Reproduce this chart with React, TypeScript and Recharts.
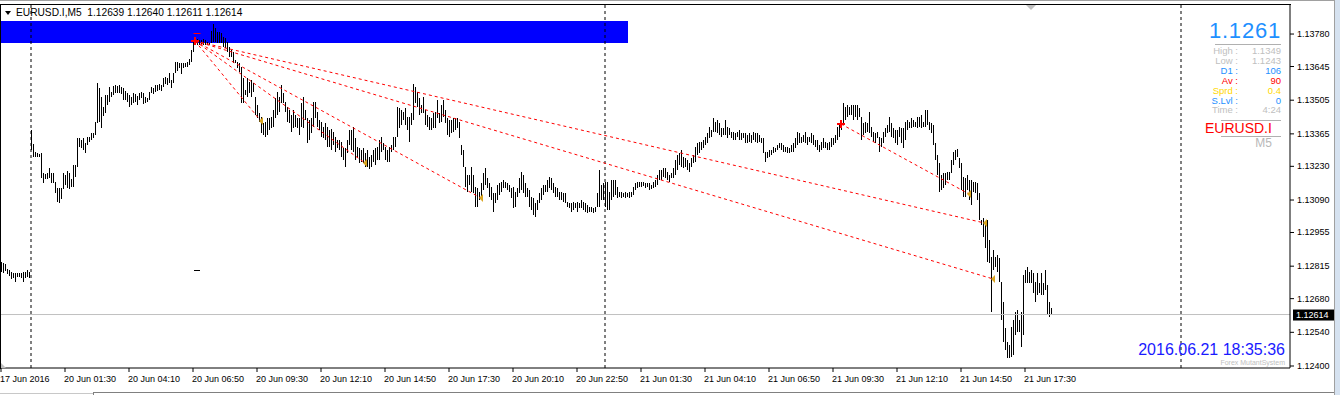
import React from 'react'
import {
  Bar,
  ComposedChart,
  ReferenceArea,
  ReferenceDot,
  ReferenceLine,
  XAxis,
  YAxis,
} from 'recharts'

// EURUSD.I M5 bars (high / low), one slot per bar, 2px apart
const high17 = [
  1.12832, 1.12828, 1.12824, 1.12803, 1.12799, 1.12791, 1.12787, 1.12787, 1.12787, 1.12787,
  1.12787, 1.12791, 1.12791, 1.12799, 1.12791,
]
const low17 = [
  1.12791, 1.12787, 1.12795, 1.12783, 1.12774, 1.12762, 1.12766, 1.12749, 1.1277, 1.1277,
  1.12766, 1.12749, 1.12766, 1.1277, 1.12766,
]

const high20 = [
  1.13381, 1.13323, 1.1329, 1.13286, 1.13281, 1.13286, 1.13202, 1.13198, 1.13202, 1.13223,
  1.13202, 1.13202, 1.13165, 1.1314, 1.1314, 1.1314, 1.13202, 1.13194, 1.13211, 1.13202,
  1.13177, 1.13236, 1.13236, 1.13348, 1.13348, 1.1334, 1.13348, 1.13327, 1.13352, 1.13352,
  1.13369, 1.13369, 1.13414, 1.13577, 1.13556, 1.13518, 1.13476, 1.13526, 1.13526, 1.1356,
  1.13539, 1.13564, 1.13568, 1.13564, 1.13568, 1.1356, 1.13556, 1.13543, 1.13535, 1.13526,
  1.13518, 1.13535, 1.13531, 1.13522, 1.13535, 1.13539, 1.13535, 1.13518, 1.13514, 1.13539,
  1.1356, 1.13556, 1.13568, 1.13568, 1.13572, 1.13568, 1.13597, 1.13601, 1.13597, 1.13618,
  1.13589, 1.13618, 1.13664, 1.13664, 1.1366, 1.1366, 1.1366, 1.1366, 1.13664, 1.13676,
  1.13714, 1.13747, 1.13764, 1.13759, 1.13755, 1.13755, 1.13759, 1.13755, 1.13747, 1.13743,
  1.13793, 1.13822, 1.13805, 1.13788, 1.13788, 1.13784, 1.13768, 1.13764, 1.13747, 1.13726,
  1.13714, 1.13705, 1.13672, 1.13664, 1.1366, 1.13643, 1.13597, 1.13547, 1.13597, 1.13581,
  1.13589, 1.13577, 1.13518, 1.13485, 1.13452, 1.13435, 1.1341, 1.13414, 1.13431, 1.13431,
  1.13435, 1.13464, 1.13514, 1.13539, 1.13518, 1.13568, 1.13535, 1.13497, 1.13476, 1.13464,
  1.13443, 1.13464, 1.13443, 1.13431, 1.13431, 1.13493, 1.13518, 1.13464, 1.13431, 1.13423,
  1.13431, 1.13497, 1.13497, 1.13456, 1.13423, 1.13414, 1.13393, 1.1341, 1.13393, 1.13381,
  1.13385, 1.13373, 1.13352, 1.1334, 1.1334, 1.13331, 1.13306, 1.13306, 1.1334, 1.13381,
  1.13381, 1.13393, 1.13348, 1.1331, 1.13306, 1.13298, 1.13306, 1.13286, 1.13298, 1.13269,
  1.13277, 1.13298, 1.13306, 1.1331, 1.1334, 1.13352, 1.13327, 1.1331, 1.13298, 1.1331,
  1.13319, 1.13352, 1.13352, 1.13476, 1.13472, 1.13464, 1.13456, 1.13472, 1.13435, 1.13435,
  1.13452, 1.13572, 1.1356, 1.13539, 1.13514, 1.13485, 1.13518, 1.13464, 1.13443, 1.13435,
  1.13431, 1.13452, 1.13456, 1.13506, 1.13452, 1.13485, 1.13506, 1.13464, 1.13431, 1.13423,
  1.13423, 1.13431, 1.13431, 1.13431, 1.13414, 1.13319, 1.13298, 1.13227, 1.13194, 1.13194,
  1.13227, 1.13194, 1.13144, 1.1314, 1.13123, 1.13161, 1.13202, 1.13223, 1.13182, 1.13161,
  1.13144, 1.13119, 1.13119, 1.13152, 1.13161, 1.13165, 1.13173, 1.13165, 1.13161, 1.13152,
  1.1314, 1.13144, 1.13123, 1.1314, 1.13182, 1.13206, 1.13194, 1.13161, 1.1314, 1.13132,
  1.13103, 1.13098, 1.13078, 1.1309, 1.13119, 1.1314, 1.13152, 1.13152, 1.13173, 1.13186,
  1.13182, 1.13161, 1.13144, 1.1314, 1.13123, 1.13123, 1.13119, 1.13119, 1.13082, 1.13078,
  1.13078, 1.13082, 1.13078, 1.13082, 1.13078, 1.1309, 1.13082, 1.13078, 1.13069, 1.13061,
  1.13061, 1.13057, 1.13061, 1.13119, 1.13215, 1.13152, 1.13161,
]
const low20 = [
  1.13298, 1.13269, 1.13269, 1.13269, 1.13269, 1.13182, 1.13161, 1.13177, 1.13177, 1.13182,
  1.13161, 1.13161, 1.13119, 1.13082, 1.13078, 1.13094, 1.13136, 1.13152, 1.1314, 1.13136,
  1.13144, 1.13144, 1.13186, 1.13227, 1.1331, 1.13306, 1.13298, 1.13286, 1.13319, 1.13331,
  1.1334, 1.13348, 1.1336, 1.1341, 1.13414, 1.13389, 1.13439, 1.13452, 1.13485, 1.13497,
  1.13518, 1.13526, 1.13535, 1.13535, 1.13535, 1.13531, 1.13506, 1.13506, 1.13497, 1.13476,
  1.13485, 1.13493, 1.13497, 1.13485, 1.13506, 1.13514, 1.13489, 1.13493, 1.13497, 1.13506,
  1.13535, 1.13531, 1.13539, 1.13543, 1.13547, 1.13543, 1.1356, 1.13572, 1.13568, 1.13577,
  1.13556, 1.13577, 1.13618, 1.13626, 1.13639, 1.13614, 1.13639, 1.13643, 1.13643, 1.13651,
  1.13664, 1.13705, 1.13734, 1.13734, 1.13734, 1.13739, 1.13734, 1.13734, 1.13734, 1.13734,
  1.13743, 1.13747, 1.13747, 1.13743, 1.13743, 1.13743, 1.13726, 1.13722, 1.13705, 1.13685,
  1.13685, 1.1366, 1.1366, 1.13639, 1.13622, 1.13493, 1.13493, 1.13526, 1.13518, 1.13535,
  1.13518, 1.13539, 1.13443, 1.13431, 1.13414, 1.13369, 1.1336, 1.13352, 1.1336, 1.13381,
  1.13389, 1.13393, 1.13431, 1.13443, 1.13456, 1.13493, 1.13493, 1.13456, 1.13414, 1.1341,
  1.13373, 1.13389, 1.13393, 1.13389, 1.1336, 1.13393, 1.13389, 1.13423, 1.13327, 1.1334,
  1.13369, 1.13393, 1.13431, 1.13393, 1.13381, 1.13352, 1.13348, 1.1334, 1.1331, 1.1331,
  1.13298, 1.13319, 1.1329, 1.13306, 1.13298, 1.13269, 1.13256, 1.13227, 1.13286, 1.13319,
  1.13298, 1.1329, 1.13256, 1.13265, 1.13244, 1.13248, 1.13244, 1.13227, 1.13227, 1.13219,
  1.13227, 1.13248, 1.13236, 1.13256, 1.13256, 1.1329, 1.13298, 1.13256, 1.13248, 1.13248,
  1.1329, 1.13298, 1.1331, 1.13352, 1.13389, 1.13402, 1.13423, 1.13402, 1.13381, 1.13331,
  1.13402, 1.13423, 1.13493, 1.13476, 1.13443, 1.13452, 1.13452, 1.13402, 1.13393, 1.13381,
  1.13381, 1.13389, 1.13389, 1.13431, 1.1341, 1.13414, 1.13435, 1.1341, 1.1336, 1.13352,
  1.13369, 1.13373, 1.13381, 1.13389, 1.13348, 1.13277, 1.13227, 1.13144, 1.13123, 1.13152,
  1.13123, 1.13119, 1.13061, 1.13061, 1.1309, 1.13103, 1.13132, 1.13152, 1.1314, 1.13103,
  1.1309, 1.1304, 1.13078, 1.1309, 1.13111, 1.13123, 1.1314, 1.1314, 1.13132, 1.13123,
  1.13098, 1.13057, 1.13061, 1.13103, 1.13119, 1.13132, 1.13119, 1.13103, 1.13103, 1.13061,
  1.13049, 1.13028, 1.1302, 1.13049, 1.13078, 1.1309, 1.13111, 1.13123, 1.13123, 1.1314,
  1.13132, 1.13119, 1.13103, 1.13103, 1.1309, 1.1309, 1.13082, 1.13078, 1.13061, 1.13057,
  1.1304, 1.13049, 1.13057, 1.1304, 1.13057, 1.13057, 1.13049, 1.1304, 1.13036, 1.1304,
  1.1304, 1.13036, 1.1304, 1.13061, 1.13061, 1.1309, 1.1309,
]

const high21 = [
  1.13165, 1.13165, 1.13123, 1.13173, 1.13173, 1.13173, 1.13144, 1.13123, 1.13123, 1.13119,
  1.13123, 1.13119, 1.13123, 1.13123, 1.13144, 1.13161, 1.13165, 1.13165, 1.13165, 1.13165,
  1.13161, 1.13161, 1.13161, 1.13152, 1.13165, 1.13173, 1.13194, 1.13215, 1.13215, 1.13223,
  1.13223, 1.13206, 1.13194, 1.13202, 1.13223, 1.13256, 1.13277, 1.13286, 1.13298, 1.13269,
  1.13265, 1.13256, 1.13244, 1.13265, 1.13277, 1.1331, 1.13327, 1.13331, 1.13331, 1.1334,
  1.13352, 1.13369, 1.13393, 1.13381, 1.13431, 1.13414, 1.13423, 1.1341, 1.13389, 1.13389,
  1.13423, 1.13393, 1.13389, 1.13373, 1.13373, 1.13369, 1.13373, 1.13381, 1.13369, 1.13369,
  1.13369, 1.1336, 1.13369, 1.1336, 1.13373, 1.13369, 1.13369, 1.1336, 1.13348, 1.13348,
  1.1329, 1.1329, 1.13298, 1.13298, 1.1331, 1.13306, 1.13319, 1.13327, 1.13327, 1.13319,
  1.1331, 1.1331, 1.13306, 1.13319, 1.13327, 1.13348, 1.13373, 1.13369, 1.13352, 1.1336,
  1.13373, 1.13352, 1.13352, 1.13369, 1.1336, 1.1334, 1.1334, 1.13319, 1.13331, 1.13348,
  1.13331, 1.13327, 1.13331, 1.13348, 1.13348, 1.1336, 1.13393, 1.1341, 1.13414, 1.13493,
  1.13476, 1.13485, 1.13476, 1.13485, 1.13485, 1.13485, 1.13485, 1.13472, 1.13435, 1.1341,
  1.13414, 1.1341, 1.13456, 1.13393, 1.13373, 1.13369, 1.13373, 1.13352, 1.13348, 1.13373,
  1.13389, 1.13402, 1.13435, 1.1341, 1.13389, 1.13381, 1.13381, 1.13393, 1.13389, 1.13389,
  1.13414, 1.13423, 1.13414, 1.13431, 1.13423, 1.13414, 1.13435, 1.13435, 1.13443, 1.13414,
  1.13464, 1.13464, 1.13414, 1.1341, 1.13402, 1.13327, 1.13277, 1.13244, 1.13194, 1.13202,
  1.13202, 1.13206, 1.13206, 1.13256, 1.1329, 1.13298, 1.13302, 1.13265, 1.13244, 1.13186,
  1.13182, 1.13194, 1.13173, 1.13173, 1.13165, 1.13165, 1.13161, 1.13119, 1.13007, 1.13015,
  1.12986, 1.13007, 1.12924, 1.12853, 1.12882, 1.12853, 1.12861, 1.12849, 1.12749, 1.12666,
  1.12558, 1.125, 1.12487, 1.12562, 1.12591, 1.12624, 1.12633, 1.12591, 1.12624, 1.12778,
  1.12799, 1.12811, 1.12791, 1.12799, 1.12787, 1.12749, 1.12787, 1.12745, 1.12787, 1.12745,
  1.12799, 1.12737, 1.12666, 1.1264,
]
const low21 = [
  1.13061, 1.13049, 1.13049, 1.1309, 1.13103, 1.13111, 1.13098, 1.13103, 1.13098, 1.13103,
  1.13098, 1.13103, 1.13098, 1.13103, 1.13111, 1.13132, 1.1314, 1.13144, 1.13144, 1.13148,
  1.1314, 1.13144, 1.13132, 1.13136, 1.1314, 1.13144, 1.13152, 1.13173, 1.13173, 1.13186,
  1.13182, 1.13173, 1.13165, 1.13182, 1.13182, 1.13194, 1.13215, 1.13236, 1.13227, 1.13223,
  1.13227, 1.13215, 1.13206, 1.13227, 1.13244, 1.13248, 1.13277, 1.13286, 1.13298, 1.13306,
  1.13319, 1.13327, 1.13348, 1.13352, 1.13373, 1.13373, 1.13369, 1.1336, 1.13352, 1.1336,
  1.1336, 1.13348, 1.1336, 1.13348, 1.1334, 1.1334, 1.13352, 1.1334, 1.1334, 1.13348,
  1.13327, 1.13327, 1.13331, 1.13327, 1.1334, 1.13331, 1.13327, 1.13331, 1.13327, 1.13286,
  1.13248, 1.13265, 1.13269, 1.13277, 1.13286, 1.1329, 1.13298, 1.13306, 1.13298, 1.1329,
  1.1329, 1.13286, 1.13286, 1.1329, 1.1329, 1.13306, 1.13319, 1.13327, 1.13327, 1.13331,
  1.13327, 1.13319, 1.13331, 1.13327, 1.13319, 1.1331, 1.13298, 1.1329, 1.13298, 1.13306,
  1.13306, 1.13298, 1.13298, 1.1331, 1.13319, 1.13327, 1.1334, 1.13352, 1.13381, 1.13402,
  1.13423, 1.13435, 1.13443, 1.13443, 1.13423, 1.13435, 1.13423, 1.13435, 1.1334, 1.1336,
  1.13369, 1.13373, 1.13369, 1.13352, 1.13331, 1.13327, 1.13348, 1.1329, 1.1331, 1.13327,
  1.13352, 1.13369, 1.13373, 1.13352, 1.13348, 1.13327, 1.13319, 1.13352, 1.13327, 1.13306,
  1.1334, 1.13381, 1.13389, 1.13389, 1.13393, 1.13393, 1.13389, 1.13393, 1.13389, 1.13393,
  1.13393, 1.13402, 1.13381, 1.13369, 1.13319, 1.13256, 1.13194, 1.13123, 1.13132, 1.1314,
  1.13152, 1.13173, 1.13173, 1.13202, 1.13236, 1.13256, 1.13269, 1.13223, 1.13132, 1.13103,
  1.13103, 1.13132, 1.1309, 1.13069, 1.13123, 1.13119, 1.1309, 1.13007, 1.12986, 1.12936,
  1.12891, 1.12832, 1.12828, 1.12624, 1.12799, 1.12812, 1.12791, 1.12749, 1.12591, 1.125,
  1.12467, 1.12433, 1.12433, 1.12437, 1.12446, 1.12529, 1.12541, 1.12541, 1.12479, 1.12529,
  1.12745, 1.12745, 1.12745, 1.12745, 1.12703, 1.12666, 1.12695, 1.12703, 1.12695, 1.12695,
  1.12716, 1.12612, 1.12604, 1.12611,
]

const timeTicks = [0, 32, 64, 96, 128, 160, 192, 224, 256, 288, 320, 352, 384, 416, 448, 480, 512]
const timeLabels = [
  '17 Jun 2016', '20 Jun 01:30', '20 Jun 04:10', '20 Jun 06:50', '20 Jun 09:30', '20 Jun 12:10',
  '20 Jun 14:50', '20 Jun 17:30', '20 Jun 20:10', '20 Jun 22:50', '21 Jun 01:30', '21 Jun 04:10',
  '21 Jun 06:50', '21 Jun 09:30', '21 Jun 12:10', '21 Jun 14:50', '21 Jun 17:30',
]
const priceTicks = [
  1.124, 1.1254, 1.1268, 1.12815, 1.12955, 1.1309, 1.1323, 1.13365, 1.13505, 1.13645, 1.1378,
]
const daySeparators = [15, 302, 590]
const lastPrice = 1.12614
const headerOhlc = ['1.12639', '1.12640', '1.12611', '1.12614']

// blue rectangle object
const box = { from: 0, to: 313, low: 1.13743, high: 1.13834 }

// dotted fan lines from the fractal highs
const fanStart = { i: 97, p: 1.13751 }
const fanEnds = [
  { i: 130, p: 1.13418 },
  { i: 182, p: 1.13244 },
  { i: 240, p: 1.13098 },
  { i: 492, p: 1.12994 },
  { i: 496, p: 1.12762 },
]
const fan2Start = { i: 420, p: 1.13406 }
const fan2End = { i: 484, p: 1.13115 }
const blackDash = { i: 98, p: 1.12799 }
const redDash = { i: 98, p: 1.13784 }

const infoRows = [
  { label: 'High', value: '1.1349', color: '#C0C0C0' },
  { label: 'Low', value: '1.1243', color: '#C0C0C0' },
  { label: 'D1', value: '106', color: '#1E90FF' },
  { label: 'Av', value: '90', color: '#FF0000' },
  { label: 'Sprd', value: '0.4', color: '#FFD700' },
  { label: 'S.Lvl', value: '0', color: '#1E90FF' },
  { label: 'Time', value: '4:24', color: '#C0C0C0' },
]

const SLOTS = 645
const FONT = '"Liberation Sans", Arial, sans-serif'

const highs = [...high17, ...high20, ...high21]
const lows = [...low17, ...low20, ...low21]
const data = Array.from({ length: SLOTS }, (_, i) => ({
  i,
  range: i < highs.length ? [lows[i], highs[i]] : null,
}))

function Stick(props: any) {
  const { x, y, width, height } = props
  if (x == null || y == null || height == null || isNaN(y) || isNaN(height)) return null
  const top = Math.min(y, y + height)
  const h = Math.abs(height)
  return (
    <rect
      x={Math.floor(x + width / 2)}
      y={Math.round(top)}
      width={1}
      height={Math.max(1, Math.round(h))}
      fill="#000"
    />
  )
}

function TimeTick({ x, y, payload }: any) {
  const k = timeTicks.indexOf(payload.value)
  return (
    <text x={x - 1} y={y + 8} fontSize={9} fontFamily={FONT} fill="#000">
      {timeLabels[k]}
    </text>
  )
}

function PriceTick({ x, y, payload }: any) {
  return (
    <text x={x + 1} y={y + 3} fontSize={9} fontFamily={FONT} fill="#000">
      {Number(payload.value).toFixed(5)}
    </text>
  )
}

function PriceTag(props: any) {
  const vb = props.viewBox
  if (!vb) return null
  const x = vb.x + vb.width + 3
  return (
    <g>
      <rect x={x} y={vb.y - 5} width={41} height={11} fill="#000" />
      <text x={x + 3} y={vb.y + 3.5} fontSize={9} fontFamily={FONT} fill="#fff">
        {lastPrice.toFixed(5)}
      </text>
    </g>
  )
}

const arrowLeft = ({ cx, cy }: any) => (
  <polygon
    points={`${cx - 2},${cy} ${cx + 2},${cy - 4} ${cx + 2},${cy + 4}`}
    fill="#DAA520"
  />
)

const redCross = ({ cx, cy }: any) => (
  <g>
    <rect x={cx - 4} y={cy - 1} width={8} height={2} fill="#FF0000" />
    <rect x={cx - 1} y={cy - 4} width={2} height={8} fill="#FF0000" />
  </g>
)

const dashMark = (color: string, w: number) => ({ cx, cy }: any) => (
  <rect x={cx - w / 2} y={Math.round(cy)} width={w} height={1} fill={color} />
)

export default function App() {
  return (
    <div
      style={{
        position: 'relative',
        width: 1340,
        height: 395,
        background: '#fff',
        fontFamily: FONT,
        overflow: 'hidden',
      }}
    >
      <style>{'body{margin:0}'}</style>
      <ComposedChart
        width={1340}
        height={395}
        data={data}
        margin={{ top: 5, right: 5, bottom: 0, left: 0 }}
        barCategoryGap={0}
      >
        <XAxis
          dataKey="i"
          type="category"
          ticks={timeTicks}
          interval={0}
          tick={TimeTick}
          tickSize={4}
          height={27}
          axisLine={{ stroke: '#000' }}
          tickLine={{ stroke: '#000' }}
        />
        <YAxis
          orientation="right"
          domain={[1.123917, 1.139007]}
          allowDataOverflow
          ticks={priceTicks}
          interval={0}
          tick={PriceTick}
          tickSize={4}
          width={45}
          axisLine={{ stroke: '#000' }}
          tickLine={{ stroke: '#000' }}
        />
        <ReferenceArea
          x1={box.from}
          x2={box.to}
          y1={box.low}
          y2={box.high}
          fill="#0000FF"
          fillOpacity={1}
          stroke="none"
        />
        {daySeparators.map((d) => (
          <ReferenceLine key={d} x={d} stroke="#000" strokeDasharray="3 3" />
        ))}
        <ReferenceLine y={lastPrice} stroke="#C0C0C0" label={<PriceTag />} />
        <Bar dataKey="range" shape={Stick} isAnimationActive={false} />
        {fanEnds.map((e) => (
          <ReferenceLine
            key={e.i}
            segment={[
              { x: fanStart.i, y: fanStart.p },
              { x: e.i, y: e.p },
            ]}
            stroke="#FF0000"
            strokeDasharray="3 3"
          />
        ))}
        <ReferenceLine
          segment={[
            { x: fan2Start.i, y: fan2Start.p },
            { x: fan2End.i, y: fan2End.p },
          ]}
          stroke="#FF0000"
          strokeDasharray="3 3"
        />
        {[...fanEnds, fan2End].map((e) => (
          <ReferenceDot key={'a' + e.i} x={e.i} y={e.p} shape={arrowLeft} />
        ))}
        <ReferenceDot x={fanStart.i} y={fanStart.p} shape={redCross} />
        <ReferenceDot x={fan2Start.i} y={fan2Start.p} shape={redCross} />
        <ReferenceDot x={redDash.i} y={redDash.p} shape={dashMark('#FF0000', 7)} />
        <ReferenceDot x={blackDash.i} y={blackDash.p} shape={dashMark('#000', 6)} />
      </ComposedChart>

      {/* window frame */}
      <div style={{ position: 'absolute', left: 0, top: 0, width: 1334, height: 1, background: '#A0A0A0' }} />
      <div style={{ position: 'absolute', left: 0, top: 4, width: 1291, height: 1, background: '#000' }} />
      <div style={{ position: 'absolute', left: 0, top: 4, width: 1, height: 365, background: '#000' }} />
      <div style={{ position: 'absolute', left: 1334, top: 0, width: 6, height: 395, background: '#D6E2F0', borderLeft: '1px solid #A0A0A0' }} />
      <div style={{ position: 'absolute', left: 93, top: 392, width: 1241, height: 1, background: '#808080' }} />
      <div style={{ position: 'absolute', left: 0, top: 393, width: 93, height: 1, background: '#C8C8C8' }} />
      <div style={{ position: 'absolute', left: 93, top: 392, width: 1, height: 3, background: '#808080' }} />
      <div style={{ position: 'absolute', left: 1026, top: 5, width: 0, height: 0, borderLeft: '5px solid transparent', borderRight: '5px solid transparent', borderTop: '5px solid #C0C0C0' }} />
      <div style={{ position: 'absolute', left: 1, top: 363, width: 0, height: 0, borderRight: '5px solid transparent', borderBottom: '5px solid #C0C0C0' }} />

      {/* header */}
      <div style={{ position: 'absolute', left: 5, top: 11, width: 0, height: 0, borderLeft: '3.5px solid transparent', borderRight: '3.5px solid transparent', borderTop: '4px solid #000' }} />
      <div style={{ position: 'absolute', left: 16, top: 8, fontSize: 10.2, lineHeight: '10px', whiteSpace: 'pre', color: '#000' }}>
        {'EURUSD.I,M5  ' + headerOhlc.join(' ')}
      </div>

      {/* info panel */}
      <div style={{ position: 'absolute', left: 1190, top: 20, width: 91, textAlign: 'right', fontSize: 22, lineHeight: '22px', letterSpacing: 0.8, color: '#1E90FF' }}>
        1.1261
      </div>
      <div style={{ position: 'absolute', left: 1215, top: 44, width: 66, height: 1, background: '#B0B0B0' }} />
      {infoRows.map((r, k) => (
        <React.Fragment key={r.label}>
          <div style={{ position: 'absolute', left: 1190, top: 46 + k * 9.9, width: 48, textAlign: 'right', fontSize: 9.5, lineHeight: '10px', color: r.color, whiteSpace: 'pre' }}>
            {r.label + ' :'}
          </div>
          <div style={{ position: 'absolute', left: 1240, top: 46 + k * 9.9, width: 41, textAlign: 'right', fontSize: 9.5, lineHeight: '10px', color: r.color }}>
            {r.value}
          </div>
        </React.Fragment>
      ))}
      <div style={{ position: 'absolute', left: 1221, top: 120, width: 60, height: 1, background: '#B0B0B0' }} />
      <div style={{ position: 'absolute', left: 1205, top: 121, fontSize: 14, lineHeight: '14px', color: '#FF0000' }}>
        EURUSD.I
      </div>
      <div style={{ position: 'absolute', left: 1221, top: 136, width: 60, height: 1, background: '#B0B0B0' }} />
      <div style={{ position: 'absolute', left: 1230, top: 137, width: 42, textAlign: 'right', fontSize: 12, lineHeight: '12px', color: '#B8B8B8' }}>
        M5
      </div>

      {/* clock */}
      <div style={{ position: 'absolute', left: 1085, top: 342, width: 200, textAlign: 'right', fontSize: 16, lineHeight: '16px', color: '#1A1AFF' }}>
        2016.06.21 18:35:36
      </div>
      <div style={{ position: 'absolute', left: 1185, top: 359, width: 100, textAlign: 'right', fontSize: 7, lineHeight: '8px', color: '#C0C0C0' }}>
        Forex MutantSystem
      </div>
    </div>
  )
}
